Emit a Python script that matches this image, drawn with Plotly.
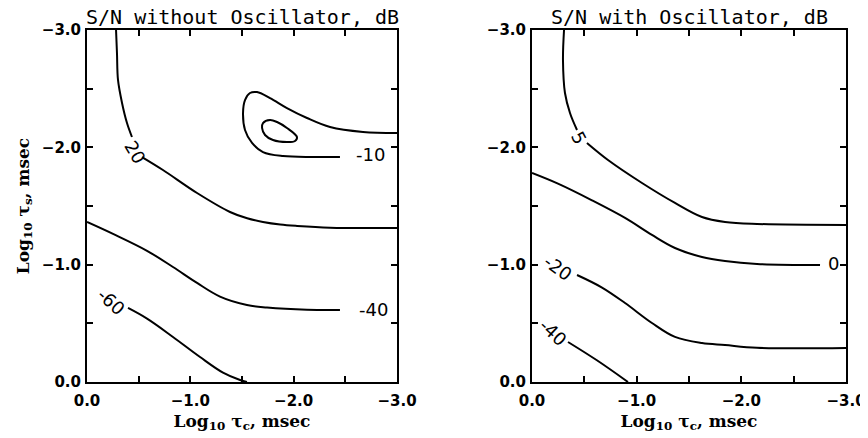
import plotly.graph_objects as go

# ---------------- data (log10 tau_c, log10 tau_s) ----------------
# Left panel: S/N without Oscillator
L20a_x = [-0.281, -0.29, -0.30, -0.339, -0.387, -0.435]
L20a_y = [-3.0, -2.804, -2.574, -2.378, -2.207, -2.088]
L20b_x = [-0.532, -0.735, -1.065, -1.384, -1.55, -1.703, -1.87, -2.032, -2.352, -3.0]
L20b_y = [-1.917, -1.807, -1.611, -1.449, -1.395, -1.364, -1.342, -1.330, -1.315, -1.313]

L10_x = [-3.0, -2.671, -2.352, -2.129, -1.935, -1.771, -1.645, -1.577, -1.529, -1.510,
         -1.529, -1.597, -1.703, -1.897, -2.187, -2.448]
L10_y = [-2.122, -2.131, -2.173, -2.250, -2.335, -2.420, -2.471, -2.463, -2.403, -2.293,
         -2.148, -2.037, -1.960, -1.926, -1.918, -1.918]

Lin_x = [-1.703, -1.771, -1.839, -1.935, -2.032, -2.013, -1.935, -1.800, -1.723, -1.694, -1.703]
Lin_y = [-2.207, -2.233, -2.216, -2.165, -2.088, -2.054, -2.045, -2.062, -2.105, -2.165, -2.207]

L40_x = [0.0, -0.252, -0.581, -0.832, -1.065, -1.287, -1.548, -1.742, -2.129, -2.448]
L40_y = [-1.364, -1.262, -1.118, -0.980, -0.844, -0.728, -0.656, -0.635, -0.616, -0.614]

L60_x = [-0.397, -0.581, -0.832, -1.094, -1.316, -1.481, -1.548]
L60_y = [-0.631, -0.540, -0.384, -0.213, -0.080, -0.017, 0.0]

L_lab_text = ["20", "-10", "-40", "-60"]
L_lab_x = [-0.47, -2.74, -2.77, -0.235]
L_lab_y = [-1.96, -1.935, -0.614, -0.69]
L_lab_ang = [60, 0, 0, 42]

# Right panel: S/N with Oscillator
R5a_x = [-0.306, -0.296, -0.315, -0.363, -0.430]
R5a_y = [-3.0, -2.744, -2.463, -2.293, -2.148]
R5b_x = [-0.525, -0.726, -1.051, -1.366, -1.624, -1.844, -2.150, -3.0]
R5b_y = [-2.037, -1.892, -1.696, -1.526, -1.406, -1.364, -1.347, -1.338]

R0_x = [0.0, -0.248, -0.573, -0.889, -1.146, -1.366, -1.624, -1.844, -2.150, -2.752]
R0_y = [-1.781, -1.690, -1.548, -1.398, -1.253, -1.142, -1.065, -1.031, -1.006, -0.997]

R20_x = [-0.430, -0.669, -0.889, -1.146, -1.366, -1.624, -1.844, -2.150, -3.0]
R20_y = [-0.912, -0.805, -0.673, -0.503, -0.384, -0.332, -0.315, -0.292, -0.290]

R40_x = [-0.344, -0.62, -0.917]
R40_y = [-0.341, -0.185, 0.0]

R_lab_text = ["5", "0", "-20", "-40"]
R_lab_x = [-0.45, -2.876, -0.24, -0.20]
R_lab_y = [-2.088, -1.006, -0.972, -0.418]
R_lab_ang = [62, 0, 36, 43]

titles = ["S/N without Oscillator, dB", "S/N with Oscillator, dB"]
tick_vals = [0.0, -1.0, -2.0, -3.0]
minor_vals = [-0.5, -1.5, -2.5]

# ---------------- figure ----------------
fig = go.Figure()
line = dict(color="black", width=2, shape="spline", smoothing=1.0)

for xs, ys in [(L20a_x, L20a_y), (L20b_x, L20b_y), (L10_x, L10_y), (Lin_x, Lin_y),
               (L40_x, L40_y), (L60_x, L60_y)]:
    fig.add_trace(go.Scatter(x=xs, y=ys, mode="lines", line=line, xaxis="x", yaxis="y",
                             showlegend=False, hoverinfo="skip"))
for xs, ys in [(R5a_x, R5a_y), (R5b_x, R5b_y), (R0_x, R0_y), (R20_x, R20_y), (R40_x, R40_y)]:
    fig.add_trace(go.Scatter(x=xs, y=ys, mode="lines", line=line, xaxis="x2", yaxis="y2",
                             showlegend=False, hoverinfo="skip"))

lab_font = dict(family="DejaVu Sans", size=18, color="black")
annotations = []
for t, x, y, a in zip(L_lab_text, L_lab_x, L_lab_y, L_lab_ang):
    annotations.append(dict(text=t, x=x, y=y, xref="x", yref="y", textangle=a,
                            showarrow=False, font=lab_font))
for t, x, y, a in zip(R_lab_text, R_lab_x, R_lab_y, R_lab_ang):
    annotations.append(dict(text=t, x=x, y=y, xref="x2", yref="y2", textangle=a,
                            showarrow=False, font=lab_font))

W, H = 868, 438
OFF = 8  # page body margin offset
dom_l = [(87 - OFF) / W, (397 - OFF) / W]
dom_r = [(532 - OFF) / W, (846 - OFF) / W]
dom_y = [(H - 382 + OFF) / H, (H - 30 + OFF) / H]

title_font = dict(family="DejaVu Sans Mono", size=20, color="black")
for t, d in zip(titles, [dom_l, dom_r]):
    annotations.append(dict(text=t, x=(d[0] + d[1]) / 2, y=(H - 17 + OFF) / H, xref="paper",
                            yref="paper", showarrow=False, font=title_font,
                            xanchor="center", yanchor="middle", borderpad=0))

ax_title_font = dict(family="DejaVu Serif", size=17, color="black", weight="bold")
tick_font = dict(family="DejaVu Sans", size=15, color="black", weight="bold")

def axis(domain, anchor, title=None, standoff=0, lab_off=0):
    d = dict(domain=domain, anchor=anchor, range=[0, -3.0], tickvals=tick_vals,
             tickformat=".1f", ticks="inside", ticklen=6, tickwidth=1.5, tickcolor="black",
             showline=True, linecolor="black", linewidth=2, mirror="ticks",
             showgrid=False, zeroline=False, tickfont=tick_font, automargin=False,
             ticklabelstandoff=lab_off,
             minor=dict(tickvals=minor_vals, ticks="inside", ticklen=6,
                        tickwidth=1.5, tickcolor="black", showgrid=False))
    if title:
        d["title"] = dict(text=title, font=ax_title_font, standoff=standoff)
    return d

xt_l = "Log<sub>10</sub> \u03c4<sub>c</sub>, msec"
yt_l = "Log<sub>10</sub> \u03c4<sub>s</sub>, msec"

fig.update_layout(
    width=W, height=H, margin=dict(l=0, r=0, t=0, b=0),
    paper_bgcolor="white", plot_bgcolor="white",
    xaxis=axis(dom_l, "y", xt_l, 6, 4),
    yaxis=axis(dom_y, "x", yt_l, 8, 1),
    xaxis2=axis(dom_r, "y2", xt_l, 6, 4),
    yaxis2=axis(dom_y, "x2", None, 0, 1),
    annotations=annotations,
)

fig.write_html("out.html")
